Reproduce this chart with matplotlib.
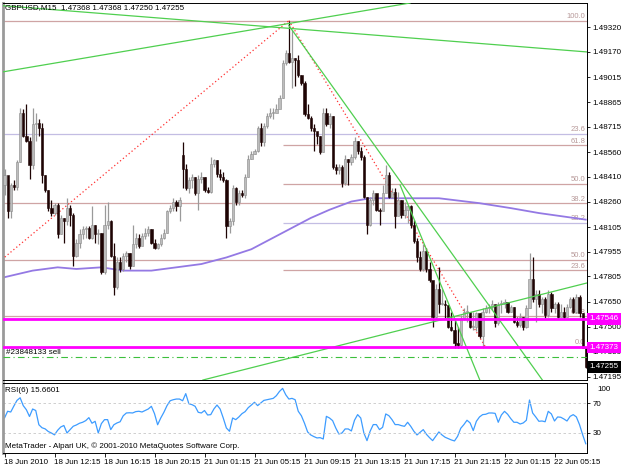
import numpy as np
import matplotlib.pyplot as plt
from matplotlib.transforms import blended_transform_factory

plt.rcParams['font.family'] = ['Liberation Sans', 'DejaVu Sans']

# GBPUSD M15 bars from 18 Jun 2010
first_open = 1.4836
closes = [1.4842, 1.4820, 1.4836, 1.4835, 1.4850, 1.4880, 1.4866, 1.4863, 1.4848, 1.4873,
          1.4874, 1.4871, 1.4842, 1.4833, 1.4822, 1.4819, 1.4824, 1.4806, 1.4816, 1.4814,
          1.4822, 1.4818, 1.4793, 1.4801, 1.4806, 1.4809, 1.4810, 1.4804, 1.4812, 1.4806,
          1.4807, 1.4783, 1.4812, 1.4814, 1.4793, 1.4774, 1.4789, 1.4785, 1.4793, 1.4795,
          1.4787, 1.4800, 1.4804, 1.4799, 1.4805, 1.4807, 1.4809, 1.4801, 1.4798, 1.4800,
          1.4804, 1.4807, 1.4820, 1.4822, 1.4826, 1.4823, 1.4827, 1.4846, 1.4834, 1.4839,
          1.4841, 1.4831, 1.4840, 1.4841, 1.4833, 1.4832, 1.4849, 1.4851, 1.4843, 1.4841,
          1.4839, 1.4811, 1.4814, 1.4834, 1.4826, 1.4831, 1.4830, 1.4841, 1.4852, 1.4855,
          1.4857, 1.4871, 1.4862, 1.4872, 1.4878, 1.4880, 1.4880, 1.4882, 1.4889, 1.4910,
          1.4916, 1.4911, 1.4913, 1.4912, 1.4903, 1.4898, 1.4879, 1.4877, 1.4871, 1.4869,
          1.4866, 1.4856, 1.4880, 1.4873, 1.4878, 1.4847, 1.4845, 1.4847, 1.4837, 1.4852,
          1.4850, 1.4853, 1.4863, 1.4857, 1.4853, 1.4829, 1.4812, 1.4827, 1.4831, 1.4821,
          1.4820, 1.4831, 1.4842, 1.4829, 1.4832, 1.4817, 1.4827, 1.4818, 1.4821, 1.4823,
          1.4812, 1.4802, 1.4792, 1.4785, 1.4796, 1.4785, 1.4778, 1.4756, 1.4773, 1.4764,
          1.4764, 1.4763, 1.4750, 1.4748, 1.4740, 1.4739, 1.4755, 1.4759, 1.4759, 1.4750,
          1.4750, 1.4758, 1.4744, 1.4759, 1.4761, 1.4762, 1.4764, 1.4752, 1.4764, 1.4764,
          1.4765, 1.4759, 1.4762, 1.4753, 1.4751, 1.4756, 1.4750, 1.4761, 1.4779, 1.4767,
          1.4770, 1.4764, 1.4767, 1.4757, 1.4770, 1.4761, 1.4764, 1.4756, 1.4759, 1.4756,
          1.4762, 1.4767, 1.4759, 1.4768, 1.4758, 1.47368, 1.47255]
highs = [1.4846, 1.4839, 1.4837, 1.4839, 1.4851, 1.4883, 1.4882, 1.4885, 1.4865, 1.4883,
         1.4880, 1.4876, 1.4874, 1.4842, 1.4833, 1.4827, 1.4825, 1.4825, 1.4818, 1.4816,
         1.4828, 1.4824, 1.4819, 1.4803, 1.4809, 1.4811, 1.4811, 1.4811, 1.4823, 1.4812,
         1.4809, 1.4807, 1.4824, 1.4826, 1.4815, 1.4801, 1.4792, 1.4792, 1.4795, 1.4796,
         1.4795, 1.4812, 1.4807, 1.4806, 1.4807, 1.4810, 1.4811, 1.4809, 1.4803, 1.4801,
         1.4806, 1.4809, 1.4821, 1.4824, 1.4828, 1.4827, 1.4829, 1.4862, 1.4849, 1.4841,
         1.4843, 1.4841, 1.4842, 1.4844, 1.4841, 1.4835, 1.4853, 1.4852, 1.4851, 1.4846,
         1.4844, 1.4840, 1.4816, 1.4836, 1.4835, 1.4833, 1.4833, 1.4843, 1.4854, 1.4857,
         1.4858, 1.4872, 1.4874, 1.4874, 1.4880, 1.4883, 1.4883, 1.4885, 1.4891, 1.4912,
         1.4918, 1.4936, 1.4930, 1.4913, 1.4915, 1.4903, 1.4899, 1.4885, 1.4878, 1.4873,
         1.4868, 1.4866, 1.4883, 1.4883, 1.4880, 1.4878, 1.4849, 1.4849, 1.4848, 1.4854,
         1.4852, 1.4855, 1.4865, 1.4863, 1.4859, 1.4854, 1.4829, 1.4829, 1.4833, 1.4830,
         1.4822, 1.4836, 1.4848, 1.4844, 1.4834, 1.4834, 1.4832, 1.4827, 1.4826, 1.4824,
         1.4824, 1.4815, 1.4804, 1.4796, 1.4800, 1.4798, 1.4789, 1.4775, 1.4776, 1.4786,
         1.4773, 1.4766, 1.4763, 1.4759, 1.4754, 1.4750, 1.4757, 1.4761, 1.4763, 1.4759,
         1.4759, 1.4759, 1.4758, 1.4761, 1.4763, 1.4764, 1.4766, 1.4762, 1.4765, 1.4766,
         1.4767, 1.4765, 1.4763, 1.4762, 1.4756, 1.4758, 1.4756, 1.4763, 1.4795, 1.4792,
         1.4772, 1.4772, 1.4768, 1.4768, 1.4772, 1.4771, 1.4765, 1.4765, 1.4764, 1.4762,
         1.4764, 1.4768, 1.4768, 1.4770, 1.4769, 1.4758, 1.47368]
lows = [1.4830, 1.4816, 1.4816, 1.4833, 1.4833, 1.4850, 1.4865, 1.4862, 1.4840, 1.4846,
        1.4863, 1.4866, 1.4837, 1.4832, 1.4820, 1.4817, 1.4818, 1.4804, 1.4806, 1.4801,
        1.4812, 1.4811, 1.4787, 1.4792, 1.4798, 1.4803, 1.4804, 1.4803, 1.4803, 1.4801,
        1.4800, 1.4782, 1.4782, 1.4809, 1.4792, 1.4769, 1.4773, 1.4783, 1.4784, 1.4789,
        1.4785, 1.4787, 1.4798, 1.4798, 1.4800, 1.4803, 1.4805, 1.4800, 1.4797, 1.4797,
        1.4799, 1.4803, 1.4807, 1.4819, 1.4820, 1.4820, 1.4814, 1.4834, 1.4833, 1.4831,
        1.4834, 1.4830, 1.4821, 1.4837, 1.4832, 1.4831, 1.4831, 1.4847, 1.4841, 1.4839,
        1.4838, 1.4804, 1.4807, 1.4812, 1.4824, 1.4824, 1.4829, 1.4828, 1.4841, 1.4852,
        1.4855, 1.4856, 1.4860, 1.4860, 1.4871, 1.4877, 1.4876, 1.4881, 1.4883, 1.4889,
        1.4909, 1.4910, 1.4895, 1.4896, 1.4902, 1.4897, 1.4878, 1.4876, 1.4869, 1.4857,
        1.4861, 1.4855, 1.4856, 1.4872, 1.4871, 1.4846, 1.4843, 1.4843, 1.4835, 1.4836,
        1.4836, 1.4848, 1.4852, 1.4855, 1.4851, 1.4828, 1.4806, 1.4811, 1.4824, 1.4820,
        1.4812, 1.4821, 1.4832, 1.4828, 1.4828, 1.4810, 1.4821, 1.4816, 1.4816, 1.4813,
        1.4810, 1.4801, 1.4789, 1.4784, 1.4784, 1.4783, 1.4777, 1.4750, 1.4755, 1.4758,
        1.4763, 1.4755, 1.4749, 1.4747, 1.4737, 1.4737, 1.4738, 1.4754, 1.4753, 1.4749,
        1.4748, 1.4747, 1.4743, 1.4737, 1.4758, 1.4758, 1.4760, 1.4750, 1.4751, 1.4758,
        1.4761, 1.4758, 1.4759, 1.4752, 1.4750, 1.4750, 1.4748, 1.4749, 1.4761, 1.4765,
        1.4753, 1.4762, 1.4758, 1.4755, 1.4756, 1.4759, 1.4758, 1.4755, 1.4758, 1.4755,
        1.4756, 1.4761, 1.4758, 1.4758, 1.4756, 1.4739, 1.47250]
gap_opens = {57: 1.4854}  # monday open after the weekend

rsi6 = [50, 59, 58, 66, 73.5, 77, 66.5, 61, 52, 62,
        60, 41, 37, 35.5, 32, 30, 27.5, 33.6, 38, 40,
        30, 34.5, 39, 40.7, 43, 44.3, 46.5, 50.5, 43, 45.6,
        30, 42.5, 47.8, 47.8, 34.5, 41, 43.4, 45, 53, 56.7,
        57, 56.7, 58.5, 59, 58, 60, 62, 65.6, 55.8, 41,
        50, 57.6, 66.5, 73, 74.4, 75.3, 75.3, 73, 82.5, 69,
        67.8, 65.6, 57.6, 56.7, 60, 54, 54.5, 62, 67.3, 62,
        50, 36.7, 32.3, 50, 47.8, 51.4, 55.8, 58.5, 63.8, 67.3,
        71, 66.5, 70, 73.5, 74.4, 75.3, 76.2, 79.8, 85.5, 89.5,
        81, 75.3, 76.2, 74.4, 59, 53, 43, 31.4, 27.4, 25.2,
        23.4, 23.8, 22, 52.2, 50, 46.5, 36.7, 28.7, 30, 35.4,
        35.4, 32.7, 47, 54.5, 50, 30, 19.8, 32.3, 41.2, 41.2,
        34.5, 37.6, 55.4, 53.1, 47.8, 41.2, 41.2, 39.8, 38.9, 44.3,
        38.9, 32.3, 27.4, 31, 34.5, 28.3, 23.8, 19.8, 25.6, 31.4,
        27.4, 24.3, 22.5, 20.7, 19.4, 25.6, 36.3, 41.2, 47, 43.4,
        33.2, 45.6, 51.4, 54.5, 55, 56.7, 56.7, 56.2, 44.3, 54,
        58.9, 55, 49.2, 44.3, 44.3, 42, 43.4, 47, 74, 56.7,
        51.4, 45.6, 46, 45, 58.9, 55.4, 46, 51.4, 51, 48.7,
        46, 52.2, 54.5, 51.4, 41.2, 27.8, 15.6601]

# moving average (purple), sampled
ma_bars = [0, 9, 17, 23, 31, 38, 47, 55, 63, 71, 79, 85, 91, 98, 104, 111, 117, 127, 139, 152, 162, 171, 186]
ma_vals = [1.4780, 1.4784, 1.4786, 1.4785, 1.4786, 1.4784, 1.4784, 1.4786, 1.4788, 1.4792, 1.4797, 1.4803,
           1.4809, 1.4816, 1.4821, 1.4826, 1.4828, 1.4828, 1.4828, 1.4825, 1.4822, 1.4819, 1.4815]

time_labels = ['18 Jun 2010', '18 Jun 12:15', '18 Jun 16:15', '18 Jun 20:15', '21 Jun 01:15', '21 Jun 05:15',
               '21 Jun 09:15', '21 Jun 13:15', '21 Jun 17:15', '21 Jun 21:15', '22 Jun 01:15', '22 Jun 05:15']
price_ticks = [1.49320, 1.49170, 1.49015, 1.48865, 1.48715, 1.48560, 1.48410, 1.48260,
               1.48105, 1.47955, 1.47805, 1.47650, 1.47500, 1.47350, 1.47195]

fib_top = 1.4936
fib_a_low = 1.4645      # older fibo, low is off the chart
fib_b_low = 1.47373
fib_levels = [0.236, 0.382, 0.5, 0.618]
level_prices = [1.47546, 1.47373]
sell_price = 1.47315
bid = 1.47255

W, H = 625, 469
fig = plt.figure(figsize=(W / 100, H / 100), dpi=100)
fig.patch.set_facecolor('white')
ax = fig.add_axes([3 / W, 1 - 380 / H, 584 / W, 377 / H])
ax2 = fig.add_axes([3 / W, 1 - 453 / H, 584 / W, 70 / H])

n = len(closes)
x = np.arange(n)
c = np.array(closes)
hi = np.array(highs)
lo = np.array(lows)
o = np.array([first_open] + closes[:-1])
for k, v in gap_opens.items():
    o[k] = v
up = c >= o

# fibonacci levels (drawn under the candles)
fib_col = '#cfa4a4'
lav = '#c3bde3'
txt_col = '#b89a9a'
ax.axhline(fib_top, color=fib_col, lw=0.9, zorder=1)
for lv in fib_levels:
    p = fib_top - (fib_top - fib_a_low) * lv
    ax.axhline(p, color=lav if lv == 0.236 else fib_col, lw=0.9, zorder=1)
    ax.text(185.9, p + 0.00004, '%.1f' % (lv * 100), color=txt_col, fontsize=5.5, ha='right', va='bottom', zorder=2)
for lv in fib_levels:
    p = fib_b_low + (fib_top - fib_b_low) * lv
    ax.hlines(p, 89, 187, color=lav if lv == 0.382 else fib_col, lw=0.9, zorder=1)
    ax.text(185.9, p + 0.00004, '%.1f' % (lv * 100), color=txt_col, fontsize=5.5, ha='right', va='bottom', zorder=2)
ax.text(185.9, fib_top + 0.00004, '100.0', color=txt_col, fontsize=5.5, ha='right', va='bottom', zorder=2)
ax.text(185.9, fib_b_low + 0.00008, '0.0', color=txt_col, fontsize=5.5, ha='right', va='bottom', zorder=2)

# fibo trend lines (red dotted)
ax.plot([-93, 91], [fib_a_low, fib_top], color='#ff3030', lw=0.9, ls=(0, (1, 2)), zorder=3)
ax.plot([91, 154], [fib_top, fib_b_low], color='#ff3030', lw=0.9, ls=(0, (1, 2)), zorder=3)

# purple moving average
ax.plot(ma_bars, ma_vals, color='#9479e4', lw=1.3, zorder=2)

# candles
ax.vlines(x[up], lo[up], hi[up], color='#9a9a9a', lw=0.9, zorder=3)
ax.vlines(x[~up], lo[~up], hi[~up], color='#1e0404', lw=0.9, zorder=3)
body = np.maximum(np.abs(c - o), 0.00003)
ax.bar(x[up], body[up], bottom=np.minimum(o, c)[up], width=0.72, color='#bdbdbd', edgecolor='#8a8a8a', lw=0.4, zorder=4)
ax.bar(x[~up], body[~up], bottom=np.minimum(o, c)[~up], width=0.72, color='#1e0404', edgecolor='#1e0404', lw=0.4, zorder=4)

# trend lines
g = '#4fcf4f'
ax.axline((0, 1.4905), (130.7, 1.4947), color=g, lw=0.9, zorder=5)
ax.axline((0, 1.4945), (186, 1.4917), color=g, lw=0.9, zorder=5)
ax.plot([91, 172.3], [1.4933, 1.4717], color=g, lw=0.9, zorder=5)
ax.plot([126.6, 152.2], [1.4836, 1.4717], color=g, lw=0.9, zorder=5)
ax.axline((63.5, 1.47175), (186.4, 1.47765), color=g, lw=0.9, zorder=5)
ax.axhline(sell_price, color='#3cbf3c', lw=0.8, ls=(0, (6, 3, 1, 3)), zorder=5)
for p in level_prices:
    ax.axhline(p, color='#ff00ff', lw=2, zorder=6)

ax.set_xlim(-0.48, 186.4)
ax.set_ylim(1.47175, 1.49467)
ax.set_facecolor('white')
ax.yaxis.tick_right()
ax.set_yticks(price_ticks)
ax.set_yticklabels(['%.5f' % p for p in price_ticks])
ax.tick_params(axis='y', labelsize=5.8, length=2.5, pad=1.5, width=0.6)
ax.set_xticks([])
for s in ['top', 'right', 'bottom']:
    ax.spines[s].set_color('black')
    ax.spines[s].set_linewidth(0.7)
ax.spines['left'].set_color('#9a9a9a')
ax.spines['left'].set_linewidth(2)

# price tags on the right scale
tr = blended_transform_factory(ax.transAxes, ax.transData)
for p in level_prices:
    ax.text(1.004, p, '%.5f' % p, transform=tr, fontsize=5.8, color='white', va='center', ha='left',
            bbox=dict(boxstyle='square,pad=0.3', fc='#ff00ff', ec='none'), clip_on=False, zorder=10)
ax.text(1.004, bid, '%.5f' % bid, transform=tr, fontsize=5.8, color='white', va='center', ha='left',
        bbox=dict(boxstyle='square,pad=0.3', fc='black', ec='none'), clip_on=False, zorder=10)

# RSI window
ax2.plot(x, rsi6, color='#3d9cff', lw=0.9)
for lvl in [70, 30]:
    ax2.axhline(lvl, color='#c8c8c8', lw=0.6, ls=(0, (3, 3)))
ax2.set_xlim(-0.48, 186.4)
ax2.set_ylim(3.3, 96.7)
ax2.yaxis.tick_right()
ax2.set_yticks([70, 30])
ax2.tick_params(axis='y', labelsize=5.8, length=2.5, pad=1.5, width=0.6)
ax2.set_xticks(np.arange(len(time_labels)) * 16)
ax2.set_xticklabels(time_labels, ha='left')
ax2.tick_params(axis='x', labelsize=5.8, length=3, pad=1.5, width=0.6)
for s in ['top', 'right', 'bottom']:
    ax2.spines[s].set_color('black')
    ax2.spines[s].set_linewidth(0.7)
ax2.spines['left'].set_color('#9a9a9a')
ax2.spines['left'].set_linewidth(2)
fig.text(597 / W, 1 - 389 / H, '100', fontsize=5.8, va='center')

# texts
fig.text(5 / W, 1 - 8 / H, 'GBPUSD,M15  1.47368 1.47368 1.47250 1.47255', fontsize=5.8, va='center')
fig.text(6 / W, 1 - 352 / H, '#23848133 sell', fontsize=5.8, va='center')
fig.text(5 / W, 1 - 390 / H, 'RSI(6) 15.6601', fontsize=5.8, va='center')
fig.text(5 / W, 1 - 446 / H, 'MetaTrader - Alpari UK, \u00a9 2001-2010 MetaQuotes Software Corp.', fontsize=5.8, va='center')

fig.savefig('out.png', dpi=100)
